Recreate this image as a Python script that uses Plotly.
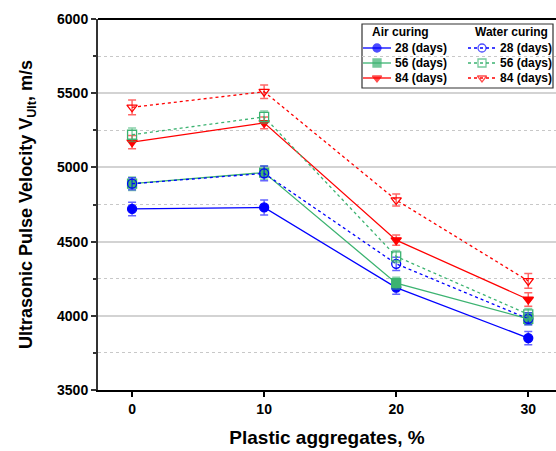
import plotly.graph_objects as go

x = [0, 10, 20, 30]
air_28 = [4720, 4730, 4190, 3850]
air_56 = [4890, 4965, 4220, 3980]
air_84 = [5170, 5300, 4510, 4110]
water_28 = [4890, 4960, 4350, 3980]
water_56 = [5220, 5340, 4400, 4010]
water_84 = [5405, 5510, 4780, 4235]
err_air_28 = [45, 50, 45, 45]
err_air_56 = [45, 45, 40, 40]
err_air_84 = [45, 40, 35, 45]
err_water_28 = [40, 50, 45, 40]
err_water_56 = [45, 40, 40, 40]
err_water_84 = [50, 45, 40, 50]
labels = ["28 (days)", "56 (days)", "84 (days)"]
group_titles = ["Air curing", "Water curing"]
y_ticks = [3500, 4000, 4500, 5000, 5500, 6000]

BLUE = "#0000FF"
GREEN = "#3CB371"
RED = "#FF0000"

FONT = "Arial, Liberation Sans"
BOLD12 = dict(family=FONT, size=12, color="black", weight="bold")
BOLD14 = dict(family=FONT, size=14, color="black", weight="bold")
BOLD18 = dict(family=FONT, size=18, color="black", weight="bold")
BOLD19 = dict(family=FONT, size=19, color="black", weight="bold")

# plot area in pixels
L, R, T, B = 98, 556, 19, 390
W, H = 556, 451


def rgba(h, a):
    h = h.lstrip("#")
    return "rgba(%d,%d,%d,%.2f)" % (int(h[0:2], 16), int(h[2:4], 16), int(h[4:6], 16), a)


fig = go.Figure()
series = [
    (air_28, err_air_28, 0, 0, BLUE, "circle", "solid"),
    (air_56, err_air_56, 0, 1, GREEN, "square", "solid"),
    (air_84, err_air_84, 0, 2, RED, "triangle-down", "solid"),
    (water_28, err_water_28, 1, 0, BLUE, "circle-open", "dot"),
    (water_56, err_water_56, 1, 1, GREEN, "square-open", "dot"),
    (water_84, err_water_84, 1, 2, RED, "triangle-down-open", "dot"),
]
for y, e, grp, row, c, sym, dash in series:
    fig.add_trace(go.Scatter(
        x=x, y=y, name=group_titles[grp] + " " + labels[row], mode="lines+markers",
        showlegend=False,
        line=dict(color=c, width=1.3, dash=dash),
        marker=dict(symbol=sym, size=9, color=c, line=dict(color=c, width=1.3)),
        error_y=dict(type="data", array=e, visible=True, color=rgba(c, 0.6), thickness=1.5, width=4),
    ))

# custom two-column legend drawn on an overlay axis measured in pixels
col_line_x0 = [363, 468]
col_line_w = 28
row_y = [48, 63, 78]
for y, e, grp, row, c, sym, dash in series:
    x0 = col_line_x0[grp]
    fig.add_trace(go.Scatter(
        x=[x0, x0 + col_line_w / 2, x0 + col_line_w], y=[row_y[row]] * 3,
        xaxis="x2", yaxis="y2", mode="lines+markers", showlegend=False, hoverinfo="skip",
        line=dict(color=c, width=1.3, dash=dash),
        marker=dict(symbol=sym, size=[0, 8, 0], color=c, line=dict(color=c, width=1.3)),
    ))
    fig.add_annotation(x=x0 + col_line_w + 2, y=row_y[row], xref="x2", yref="y2",
                       text="<b>%s</b>" % labels[row], showarrow=False,
                       xanchor="left", yanchor="middle", font=BOLD12)
title_x = [370, 473]
for i, t in enumerate(group_titles):
    fig.add_annotation(x=title_x[i], y=32, xref="x2", yref="y2", text="<b>%s</b>" % t,
                       showarrow=False, xanchor="left", yanchor="middle", font=BOLD12)

fig.update_layout(
    width=W, height=H,
    margin=dict(l=L, r=W - R, t=T, b=H - B, autoexpand=False),
    plot_bgcolor="white", paper_bgcolor="white",
    font=dict(family=FONT, size=12, color="black"),
    showlegend=False,
    xaxis=dict(
        range=[-2.58, 32.1], tickvals=x, ticktext=["<b>%d</b>" % v for v in x],
        tickfont=BOLD14,
        ticks="outside", ticklen=5, tickcolor="black", tickwidth=1.5,
        showline=True, linecolor="black", linewidth=1.5,
        showgrid=False, zeroline=False,
        title=dict(text="<b>Plastic aggregates, %</b>", font=BOLD19, standoff=15),
    ),
    yaxis=dict(
        range=[3500, 6000], tickvals=y_ticks, ticktext=["<b>%d</b>" % v for v in y_ticks],
        tickfont=BOLD14,
        ticks="outside", ticklen=5, tickcolor="#333", tickwidth=1.5,
        showline=True, linecolor="#333", linewidth=2,
        showgrid=True, gridcolor="#d3d3d3", gridwidth=1.5, zeroline=False,
        minor=dict(dtick=250, tick0=3750, ticks="outside", ticklen=3, tickcolor="#333",
                   showgrid=True, gridcolor="#c8c8c8", griddash="dot", gridwidth=1),
        title=dict(text="<b>Ultrasonic Pulse Velocity V<sub>Ult</sub>, m/s</b>", font=BOLD18,
                   standoff=20),
    ),
    xaxis2=dict(overlaying="x", range=[L, R], visible=False, fixedrange=True),
    yaxis2=dict(overlaying="y", range=[B, T], visible=False, fixedrange=True),
    shapes=[
        dict(type="line", xref="paper", yref="paper", x0=0, x1=1, y0=1, y1=1,
             line=dict(color="black", width=2)),
        dict(type="rect", xref="x2", yref="y2", x0=362, x1=553, y0=24, y1=88,
             line=dict(color="#333", width=1.2), fillcolor="white", layer="below"),
    ],
)
fig.write_html("out.html")
